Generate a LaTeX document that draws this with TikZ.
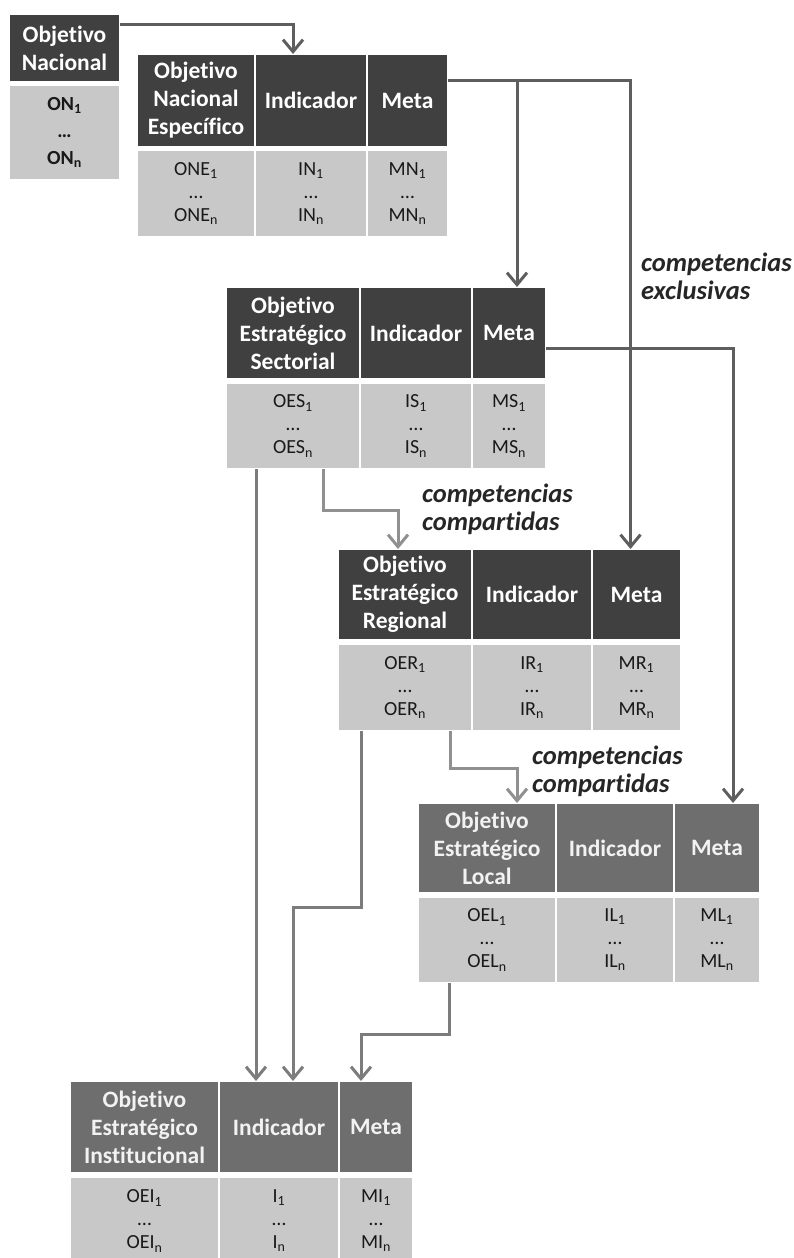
\documentclass[tikz,border=0pt]{standalone}
\usepackage{fontspec}
\setmainfont{Carlito}[Ligatures=NoCommon]
\usetikzlibrary{arrows.meta}
\definecolor{grisOsc}{HTML}{404040}
\definecolor{grisMed}{HTML}{6E6E6E}
\definecolor{grisClaro}{HTML}{C8C8C8}
\definecolor{lineaOsc}{HTML}{5E5E5E}
\definecolor{lineaMed}{HTML}{7C7C7C}
\definecolor{lineaClara}{HTML}{909090}
\tikzset{
  celda/.style={draw=white, line width=1.5pt, inner sep=0pt, outer sep=0pt, align=center},
  cab/.style={celda, fill=grisOsc, text=white, font=\bfseries\fontsize{23.5}{28}\selectfont},
  cabmed/.style={cab, fill=grisMed, text=white!90!gray},
  cuerpo/.style={celda, fill=grisClaro, text=black!90, font=\fontsize{20}{23}\selectfont},
  flecha/.style={line width=3pt, -{Straight Barb[length=12pt,width=20pt]}},
  etiqueta/.style={font=\bfseries\itshape\fontsize{26.5}{28}\selectfont, text=black!85, align=left, inner sep=0pt, anchor=west}
}
\begin{document}
\begin{tikzpicture}[x=1pt, y=-1pt]
    \useasboundingbox (0,0) rectangle (794,1258);

    %Objetivo Nacional
    \node[cab, minimum width=111pt, minimum height=68pt] (onH) at (64.5,48) {Objetivo\\Nacional};
    \node[cuerpo, font=\bfseries\fontsize{20}{27}\selectfont, minimum width=111pt, minimum height=95pt] (onB) at (64.5,132.5) {ON\textsubscript{1}\\…\\ON\textsubscript{n}};

    %Objetivo Nacional Especifico
    \node[cab, minimum width=118pt, minimum height=93pt] (oneO) at (196,100.5) {Objetivo\\Nacional\\Específico};
    \node[cab, minimum width=112pt, minimum height=93pt] (oneI) at (311,100.5) {Indicador};
    \node[cab, minimum width=81pt, minimum height=93pt] (oneM) at (407.5,100.5) {Meta};
    \node[cuerpo, minimum width=118pt, minimum height=87pt] (oneOb) at (196,193.5) {ONE\textsubscript{1}\\…\\ONE\textsubscript{n}};
    \node[cuerpo, minimum width=112pt, minimum height=87pt] (oneIb) at (311,193.5) {IN\textsubscript{1}\\…\\IN\textsubscript{n}};
    \node[cuerpo, minimum width=81pt, minimum height=87pt] (oneMb) at (407.5,193.5) {MN\textsubscript{1}\\…\\MN\textsubscript{n}};

    %Sectorial
    \node[cab, minimum width=134pt, minimum height=92pt] (oesO) at (293,333) {Objetivo\\Estratégico\\Sectorial};
    \node[cab, minimum width=112pt, minimum height=92pt] (oesI) at (416,333) {Indicador};
    \node[cab, minimum width=74pt, minimum height=92pt] (oesM) at (509,333) {Meta};
    \node[cuerpo, minimum width=134pt, minimum height=86pt] (oesOb) at (293,426) {OES\textsubscript{1}\\…\\OES\textsubscript{n}};
    \node[cuerpo, minimum width=112pt, minimum height=86pt] (oesIb) at (416,426) {IS\textsubscript{1}\\…\\IS\textsubscript{n}};
    \node[cuerpo, minimum width=74pt, minimum height=86pt] (oesMb) at (509,426) {MS\textsubscript{1}\\…\\MS\textsubscript{n}};

    %Regional
    \node[cab, minimum width=134pt, minimum height=91pt] (oerO) at (405,594.5) {Objetivo\\Estratégico\\Regional};
    \node[cab, minimum width=120pt, minimum height=91pt] (oerI) at (532,594.5) {Indicador};
    \node[cab, minimum width=89pt, minimum height=91pt] (oerM) at (636.5,594.5) {Meta};
    \node[cuerpo, minimum width=134pt, minimum height=87pt] (oerOb) at (405,687.5) {OER\textsubscript{1}\\…\\OER\textsubscript{n}};
    \node[cuerpo, minimum width=120pt, minimum height=87pt] (oerIb) at (532,687.5) {IR\textsubscript{1}\\…\\IR\textsubscript{n}};
    \node[cuerpo, minimum width=89pt, minimum height=87pt] (oerMb) at (636.5,687.5) {MR\textsubscript{1}\\…\\MR\textsubscript{n}};

    %Local
    \node[cabmed, minimum width=138pt, minimum height=90pt] (oelO) at (487,848) {Objetivo\\Estratégico\\Local};
    \node[cabmed, minimum width=118pt, minimum height=90pt] (oelI) at (615,848) {Indicador};
    \node[cabmed, minimum width=86pt, minimum height=90pt] (oelM) at (717,848) {Meta};
    \node[cuerpo, minimum width=138pt, minimum height=86pt] (oelOb) at (487,940) {OEL\textsubscript{1}\\…\\OEL\textsubscript{n}};
    \node[cuerpo, minimum width=118pt, minimum height=86pt] (oelIb) at (615,940) {IL\textsubscript{1}\\…\\IL\textsubscript{n}};
    \node[cuerpo, minimum width=86pt, minimum height=86pt] (oelMb) at (717,940) {ML\textsubscript{1}\\…\\ML\textsubscript{n}};

    %Institucional
    \node[cabmed, minimum width=149pt, minimum height=92pt] (oeiO) at (144.5,1127) {Objetivo\\Estratégico\\Institucional};
    \node[cabmed, minimum width=120pt, minimum height=92pt] (oeiI) at (279,1127) {Indicador};
    \node[cabmed, minimum width=74pt, minimum height=92pt] (oeiM) at (376,1127) {Meta};
    \node[cuerpo, minimum width=149pt, minimum height=88pt] (oeiOb) at (144.5,1221) {OEI\textsubscript{1}\\…\\OEI\textsubscript{n}};
    \node[cuerpo, minimum width=120pt, minimum height=88pt] (oeiIb) at (279,1221) {I\textsubscript{1}\\…\\I\textsubscript{n}};
    \node[cuerpo, minimum width=74pt, minimum height=88pt] (oeiMb) at (376,1221) {MI\textsubscript{1}\\…\\MI\textsubscript{n}};

    %Etiquetas
    \node[etiqueta] (exclusivas) at (641,276) {competencias\\exclusivas};
    \node[etiqueta] (compartidasR) at (422,509) {competencias\\compartidas};
    \node[etiqueta] (compartidasL) at (532,771) {competencias\\compartidas};

    %Flechas oscuras
    \coordinate (exc) at ([yshift=20pt]oneM.east);
    \coordinate (oesMin) at ([xshift=8pt]oesM.north);
    \draw[flecha, lineaOsc] ([yshift=-10pt]onH.north east) -| ([xshift=-18pt]oneI.north);
    \draw[flecha, lineaOsc] (exc) -| ([xshift=-6pt]oerM.north);
    \draw[flecha, lineaOsc] (exc -| oesMin) -- (oesMin);
    \draw[flecha, lineaOsc] ([yshift=-15pt]oesM.east) -| ([xshift=16pt]oelM.north);

    %Flechas compartidas
    \draw[flecha, lineaClara] ([xshift=30pt]oesOb.south) -- ++(0,41) -| ([xshift=-7pt]oerO.north);
    \draw[flecha, lineaClara] ([xshift=45pt]oerOb.south) -- ++(0,37) -| ([xshift=30pt]oelO.north);

    %Flechas al institucional
    \draw[flecha, lineaMed] ([xshift=-37pt]oesOb.south) -- ([xshift=-23pt]oeiI.north);
    \draw[flecha, lineaMed] ([xshift=-44pt]oerOb.south) -- ++(0,176) -| ([xshift=14pt]oeiI.north);
    \draw[flecha, lineaMed] ([xshift=-38pt]oelOb.south) -- ++(0,51) -| ([xshift=-15pt]oeiM.north);

\end{tikzpicture}
\end{document}
